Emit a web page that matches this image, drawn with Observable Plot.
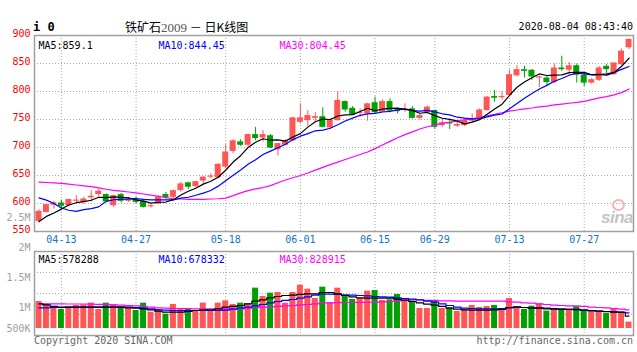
<!DOCTYPE html>
<html><head><meta charset="utf-8">
<script src="https://cdn.jsdelivr.net/npm/d3@7"></script>
<script src="https://cdn.jsdelivr.net/npm/@observablehq/plot@0.6"></script>
<style>
body{margin:0;background:#fff;}
#wrap{position:relative;width:637px;height:352px;overflow:hidden;background:#fff;font-family:'DejaVu Sans Mono',monospace;}
.abs{position:absolute;white-space:nowrap;line-height:1;}
#main,#vol{position:absolute;left:0;}
#main{top:0;} #vol{top:200px;}
</style></head><body>
<div id="wrap">
  <div id="main"></div>
  <div id="vol"></div>
  <div class="abs" style="left:33px;top:21px;font-weight:bold;font-size:12px;">i 0</div>
  <div class="abs" style="left:125px;top:21px;font-family:'Noto Sans CJK SC';font-size:12px;color:#000;">铁矿石<span style="font-family:'Liberation Serif';color:#555;font-size:13px;">2009</span> － 日K线图</div>
  <div class="abs" style="right:4px;top:22px;font-size:10px;color:#000;">2020-08-04 08:43:40</div>
  <div class="abs" style="left:34px;top:336px;font-size:10px;color:#666;">Copyright 2020 SINA.COM</div>
  <div class="abs" style="right:4px;top:336px;font-size:10px;color:#666;">http://finance.sina.com.cn</div>
  <div class="abs" style="left:612px;top:199px;width:9px;height:8px;border-radius:50%;border:2px solid #f7b3b3;"></div>
  <div class="abs" style="left:601px;top:209px;font-family:'Liberation Sans';font-style:italic;font-weight:bold;font-size:17px;color:#c4c4c4;letter-spacing:-0.5px;">sina</div>
</div>
<script>
const dates = ["04-08","04-09","04-10","04-13","04-14","04-15","04-16","04-17","04-20","04-21","04-22","04-23","04-24","04-27","04-28","04-29","04-30",
"05-06","05-07","05-08","05-11","05-12","05-13","05-14","05-15","05-18","05-19","05-20","05-21","05-22","05-25","05-26","05-27","05-28","05-29",
"06-01","06-02","06-03","06-04","06-05","06-08","06-09","06-10","06-11","06-12","06-15","06-16","06-17","06-18","06-19","06-22","06-23","06-24","06-29","06-30",
"07-01","07-02","07-03","07-06","07-07","07-08","07-09","07-10","07-13","07-14","07-15","07-16","07-17","07-20","07-21","07-22","07-23","07-24","07-27","07-28","07-29","07-30","07-31",
"08-03","08-04"];
const opens = [568,584,597,601,596,604,602,610,616,616, 596,616,604,607,604,594,599,616,611,623, 637,630,640,647,646,665,693,710,704,723, 717,721,696,704,712,745,748,752,755,735, 748,782,770,761,760,780,763,782,767,766, 769,752,762,766,739,745,738,739,747,751, 766,791,789,793,828,839,838,824,824,816, 842,838,846,829,815,820,845,830,848,878];
const closes = [586,598,601,595,607,606,608,613,622,603, 614,604,608,602,593,596,612,610,623,635, 629,639,647,649,670,692,712,704,723,716, 723,699,707,712,753,753,757,755,736,749, 784,767,758,763,778,762,782,765,764,768, 752,757,772,736,744,742,741,748,751,767, 790,788,791,830,839,836,826,826,816,842, 839,846,829,815,821,842,839,851,872,893];
const highs = [589,599,604,606,608,614,611,623,626,617, 615,618,611,612,605,598,614,620,624,638, 638,640,648,653,671,705,714,714,724,736, 730,723,707,714,754,778,766,762,771,751, 799,783,773,769,779,790,785,787,770,778, 773,760,774,767,751,749,745,751,760,769, 791,802,799,838,846,845,839,827,827,849, 863,852,849,832,823,845,848,851,876,894];
const lows = [565,583,590,590,595,601,599,603,612,602, 593,601,602,599,592,592,598,608,609,620, 625,628,634,644,644,662,689,702,701,712, 710,698,685,703,711,742,738,745,735,733, 747,763,757,754,747,760,762,762,760,763, 751,749,760,733,736,732,736,737,745,749, 765,781,785,792,826,824,820,807,811,814, 836,829,815,809,813,818,832,829,846,875];
// volume in thousands
const volumesK = [1105,1066,1011,972,1011,1038,1038,1077,972,1077, 1050,1011,1011,955,1077,927,972,894,1055,983, 972,955,1077,955,1077,1116,1055,1077,1066,1327, 1188,1244,1255,1077,1255,1377,1310,1155,1344,1088, 1327,1188,1138,1155,1277,1288,1122,1133,1222,1110, 1110,988,988,1110,988,1000,938,977,1038,1005, 1022,1038,988,1155,1005,972,1027,1066,944,977, 972,972,1027,944,944,927,911,972,938,761];
// moving-average values before a full window exists
const ma5Lead = [568,577,583,590];
const ma10Lead = [610,606,600,592,588,586,589,591,594];
const ma30 = [638,637.5,637,636,634.5,633,631.5,630,628,625.5, 623.5,622,620.5,619,617,615,613,610.5,608.5,608, 607.5,607.5,607.5,608,608.5,609.5,614,619,623,626, 628.5,632,637,642,646,650,654.5,659.5,664.5,669.5, 674,678.5,683,687.5,692,698,704.5,711,717.5,723, 728,733,737,740,743.5,745,747.5,749.5,751,754, 756.5,759,762,765,767,769,770.5,772.5,774,776, 777.5,779,780.5,782.5,785.5,788.5,791,794,798,804.5];
const volMa5K = [1066,1050,1022,1011,1011,1011,1011,1011,1011,1011, 1011,1011,1000,994,983,966,944,927,927,927, 938,955,966,966,983,1011,1022,1038,1066,1110, 1133,1166,1188,1205,1211,1222,1233,1233,1255,1255, 1233,1205,1183,1166,1160,1160,1160,1160,1144,1127, 1105,1083,1061,1044,1022,994,977,966,961,961, 961,966,972,1005,1016,1005,994,994,983,977, 977,972,972,966,955,944,938,927,922,861];
const volMa10K = [1000,1000,1005,1005,1011,1011,1011,1011,1011,1011, 1011,1011,1011,1005,994,983,966,961,955,955, 955,955,955,955,955,961,977,1000,1011,1033, 1055,1083,1105,1122,1138,1160,1183,1210,1227,1227, 1222,1216,1210,1205,1200,1188,1183,1177,1166,1155, 1144,1133,1110,1094,1066,1038,1011,994,988,983, 983,983,988,1000,1011,1005,1000,1000,994,988, 977,972,966,955,950,944,938,933,922,916];
const volMa30K = [1066,1066,1066,1066,1063,1063,1061,1061,1058,1058, 1050,1044,1038,1033,1022,1011,1000,994,988,988, 985,983,983,983,983,983,983,983,994,1005, 1011,1016,1022,1033,1038,1050,1055,1066,1083,1083, 1085,1088,1088,1090,1092,1094,1100,1105,1116,1127, 1133,1130,1122,1122,1116,1116,1110,1110,1110,1110, 1110,1110,1110,1100,1094,1083,1077,1066,1055,1044, 1038,1033,1027,1022,1011,1005,1000,988,977,966];
const priceTicks = [550,600,650,700,750,800,850,900];
const dateTicks = ["04-13","04-27","05-18","06-01","06-15","06-29","07-13","07-27"];
const volTicks = [500000,1000000,1500000,2000000,2500000];
const volTickLabels = ["500K","1M","1.5M","2M","2.5M"];
const priceLegend = ["MA5:859.1","MA10:844.45","MA30:804.45"];
const volLegend = ["MA5:578288","MA10:678332","MA30:828915"];

const RED = "#ff5555", GREEN = "#00a000";
const MA_COLORS = ["#000000","#0000ff","#ff00ff"];
const candles = dates.map((date, i) => ({date, open: opens[i], close: closes[i], high: highs[i], low: lows[i], vol: volumesK[i]*1000, up: closes[i] >= opens[i]}));
const ma5 = closes.map((c, i) => i < 4 ? ma5Lead[i] : d3.mean(closes.slice(i - 4, i + 1)));
const ma10 = closes.map((c, i) => i < 9 ? ma10Lead[i] : d3.mean(closes.slice(i - 9, i + 1)));
const color = d => d.up ? RED : GREEN;
const dotted = {stroke: "#a8a8a8", strokeDasharray: "1,2", strokeWidth: 1};
const legendDx = [4, 124, 245];
const baseStyle = {fontFamily: "'DejaVu Sans Mono', monospace", fontSize: "10px", background: "transparent", overflow: "visible"};

const main = Plot.plot({
  width: 637, height: 250, marginLeft: 34, marginRight: 4, marginTop: 35, marginBottom: 19,
  style: baseStyle,
  x: {type: "band", domain: dates, padding: 0.2},
  y: {domain: [550, 900]},
  marks: [
    Plot.ruleY(priceTicks.slice(1, -1), dotted),
    Plot.ruleX(dateTicks, dotted),
    Plot.ruleX(candles, {x: "date", y1: "low", y2: "high", stroke: color, strokeWidth: 1}),
    Plot.barY(candles, {x: "date", y1: "open", y2: "close", fill: color}),
    Plot.lineY(dates, {x: dates, y: ma30, stroke: MA_COLORS[2], strokeWidth: 1.2}),
    Plot.lineY(dates, {x: dates, y: ma10, stroke: MA_COLORS[1], strokeWidth: 1.2}),
    Plot.lineY(dates, {x: dates, y: ma5, stroke: MA_COLORS[0], strokeWidth: 1.2}),
    Plot.frame({stroke: "#a0a0a0", strokeWidth: 1.5}),
    Plot.axisY(priceTicks, {tickSize: 0, tickPadding: 4, color: "#ff0000", dy: -1.5, label: null}),
    Plot.axisX(dateTicks, {tickSize: 0, tickPadding: 4, color: "#1173c7", label: null}),
    ...priceLegend.map((t, i) => Plot.text([t], {text: d => d, frameAnchor: "top-left", dx: legendDx[i], dy: 6, fill: MA_COLORS[i], textAnchor: "start"}))
  ]
});
document.getElementById("main").append(main);

const VLO = 538000, VHI = 1938000, VBASE = 655000;
const vol = Plot.plot({
  width: 637, height: 152, marginLeft: 34, marginRight: 4, marginTop: 51, marginBottom: 17,
  style: baseStyle,
  x: {type: "band", domain: dates, padding: 0.2, axis: null},
  y: {domain: [VLO, VHI], axis: null},
  marks: [
    Plot.ruleY([0.25, 0.5, 0.75].map(q => VLO + (VHI - VLO) * q), dotted),
    Plot.ruleX(dateTicks, dotted),
    Plot.barY(candles, {x: "date", y1: VBASE, y2: "vol", fill: color}),
    Plot.lineY(dates, {x: dates, y: volMa30K.map(v => v * 1000), stroke: MA_COLORS[2], strokeWidth: 1.2, curve: "step"}),
    Plot.lineY(dates, {x: dates, y: volMa10K.map(v => v * 1000), stroke: MA_COLORS[1], strokeWidth: 1.2, curve: "step"}),
    Plot.lineY(dates, {x: dates, y: volMa5K.map(v => v * 1000), stroke: MA_COLORS[0], strokeWidth: 1.2, curve: "step"}),
    Plot.frame({stroke: "#a0a0a0", strokeWidth: 1.5}),
    Plot.text(volTicks.slice(1), {y: d => d, text: (d, i) => volTickLabels[i + 1], frameAnchor: "left", textAnchor: "end", dx: -4, fill: "#a0a0a0"}),
    Plot.text(volTicks.slice(0, 1), {y: d => d, text: () => volTickLabels[0], frameAnchor: "left", textAnchor: "end", dx: -4, dy: -9, fill: "#a0a0a0"}),
    ...volLegend.map((t, i) => Plot.text([t], {text: d => d, frameAnchor: "top-left", dx: legendDx[i], dy: 4.5, fill: MA_COLORS[i], textAnchor: "start"}))
  ]
});
document.getElementById("vol").append(vol);
</script>
</body></html>
